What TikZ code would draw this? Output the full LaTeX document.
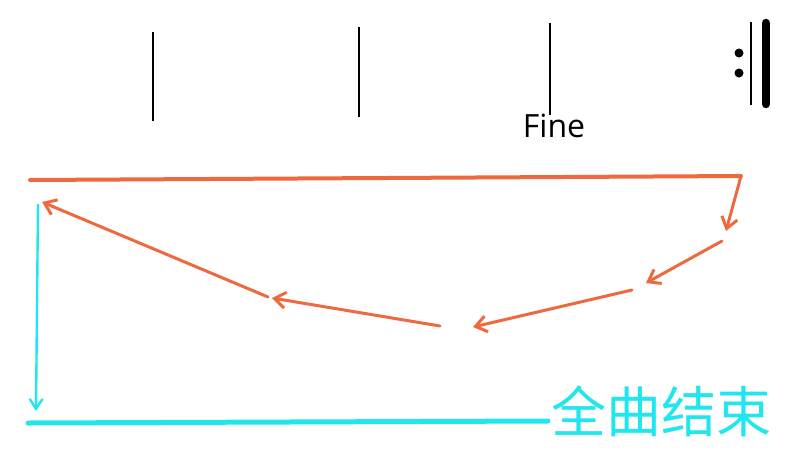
\documentclass[tikz,border=0pt]{standalone}
\usepackage{fontspec}
\setmainfont{Open Sans}
\newfontfamily\cjk{Noto Sans CJK SC}
\usetikzlibrary{arrows.meta}
\definecolor{orng}{HTML}{EE6A3E}
\definecolor{cyn}{HTML}{22E6EE}
\begin{document}
\begin{tikzpicture}[x=1pt,y=-1pt,
  barline/.style={line width=2pt,black},
  oline/.style={orng,line width=4pt,line cap=round},
  oarrow/.style={orng,line width=3pt,line cap=round,-{Straight Barb[length=11pt,width=16pt,line width=3pt]}},
  carrow/.style={cyn,line width=2.4pt,-{Straight Barb[length=10pt,width=13pt,line width=2.4pt]}},
  cline/.style={cyn,line width=5pt,line cap=round}]
\useasboundingbox (0,0) rectangle (800,456);
% bar lines
\draw[barline] (153,32) -- (153,121);
\draw[barline] (359,27) -- (359,117);
\draw[barline] (550,23) -- (550,115);
\node[font=\fontsize{32}{34}\selectfont,anchor=base,inner sep=0pt] (fine) at (554,137) {Fine};
% repeat sign
\draw[line width=2.6pt] (751,22) -- (751,105);
\draw[line width=8.5pt,line cap=round] (766,23) -- (766,104);
\fill (739,53) circle (4.5pt);
\fill (739,73) circle (4.5pt);
% coordinates
\coordinate (a) at (30,180);
\coordinate (b) at (741,176);
\coordinate (c) at (726,231);
\coordinate (d1) at (722,241);
\coordinate (d2) at (646,283);
\coordinate (e1) at (632,290);
\coordinate (e2) at (473,327);
\coordinate (f1) at (440,326);
\coordinate (f2) at (272,298);
\coordinate (g1) at (268,297);
\coordinate (g2) at (42,202);
\coordinate (h1) at (38,204);
\coordinate (h2) at (36,411);
\coordinate (i1) at (28,423);
\coordinate (i2) at (548,421);
% orange path
\draw[oline] (a) -- (b);
\draw[oarrow] (b) -- (c);
\draw[oarrow] (d1) -- (d2);
\draw[oarrow] (e1) -- (e2);
\draw[oarrow] (f1) -- (f2);
\draw[oarrow] (g1) -- (g2);
% cyan
\draw[carrow] (h1) -- (h2);
\draw[cline] (i1) -- (i2);
\node[cyn,font=\cjk\fontsize{55}{57}\selectfont,anchor=west,inner sep=0pt] (end) at (551,411) {全曲结束};
\end{tikzpicture}
\end{document}
